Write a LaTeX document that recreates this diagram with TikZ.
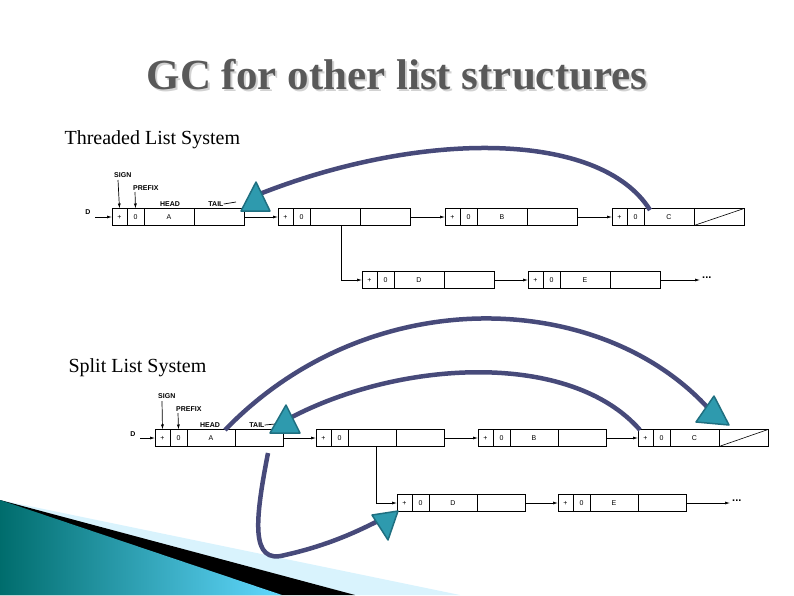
\documentclass[tikz,border=0pt]{standalone}
\usepackage{fontspec}
\setmainfont{Liberation Serif}
\newfontfamily\cellfont{Liberation Sans}
\usetikzlibrary{arrows.meta}
\definecolor{curve}{HTML}{474A7A}
\definecolor{tealf}{HTML}{2E9AAE}
\definecolor{teald}{HTML}{1F6F80}
\tikzset{
 cell/.style={draw,line width=0.7pt,inner sep=0,outer sep=0,minimum height=17,anchor=west,font=\cellfont\fontsize{7}{8}\selectfont},
 lbl/.style={font=\cellfont\bfseries\fontsize{7}{8}\selectfont,inner sep=0},
 dots/.style={font=\cellfont\bfseries\fontsize{11}{12}\selectfont,inner sep=0},
 link/.style={line width=0.7pt,-{Latex[length=5pt,width=3pt]}},
 gcn/.style={draw=curve,line width=4.5pt},
 tri/.style={fill=tealf,draw=teald,line width=1.5pt,line join=round}
}
\newcommand{\rec}[5]{%
 \node[cell,minimum width=15] (#1s) at (#2,#3) {+};
 \node[cell,minimum width=17] (#1p) at (#1s.east) {0};
 \node[cell,minimum width=#5] (#1h) at (#1p.east) {#4};
 \node[cell,minimum width=#5] (#1t) at (#1h.east) {};
}
\begin{document}
\begin{tikzpicture}[x=1pt,y=-1pt]
\useasboundingbox (0,0) rectangle (794,595);
% decoration
\fill[cyan!15!white] (0,500) -- (460,595) -- (0,595) -- cycle;
\fill[black] (0,500) -- (355,595) -- (0,595) -- cycle;
\shade[left color=teal!85!black,right color=cyan!55!white!85!blue] (0,500) -- (282,595) -- (0,595) -- cycle;
% title (with shadow)
\node[text=gray!35] (titles) at (399,77) {\fontsize{43}{46}\selectfont\bfseries GC for other list structures};
\node[text=black!65] (title) at (397,75) {\fontsize{43}{46}\selectfont\bfseries GC for other list structures};
\node[anchor=west,font=\fontsize{20}{22}\selectfont] (t1) at (61,140) {Threaded List System};
\node[anchor=west,font=\fontsize{20}{22}\selectfont] (t2) at (65,368) {Split List System};
% ---------- top diagram
\rec{a}{112}{217}{A}{50}
\rec{b}{278}{217}{}{50}
\rec{c}{445}{217}{B}{50}
\rec{d}{612}{217}{C}{50}
\draw[line width=0.6pt] (dt.south west) -- (dt.north east);
\rec{e}{362}{280}{D}{50}
\rec{f}{528}{280}{E}{50}
\node[lbl] (D1) at (88,212) {D};
\coordinate (D1s) at (95,217);
\draw[link] (D1s) -- (as.west);
\draw[link] (at.east) -- (bs.west);
\draw[link] (bt.east) -- (cs.west);
\draw[link] (ct.east) -- (ds.west);
\draw[link] (et.east) -- (fs.west);
\coordinate (f1) at (700,280);
\draw[link] (ft.east) -- (f1);
\node[dots,anchor=west] (dots1) at (702,278) {...};
\coordinate (v1) at (341,226);
\draw[link] (v1) |- (es.west);
\node[lbl,anchor=west] (sg1) at (114,175) {SIGN};
\draw[link] (118,180) -- (as.north);
\node[lbl,anchor=west] (pf1) at (133,188) {PREFIX};
\draw[link] (135,192) -- (ap.north);
\node[lbl] (hd1) at (170,204) {HEAD};
\node[lbl] (tl1) at (216,204) {TAIL};
\draw[line width=0.7pt] (tl1.east) -- (236,202);
\coordinate (g1a) at (650,210);
\coordinate (g1b) at (257,195);
\draw[gcn] (g1a) .. controls (600,130) and (420,130) .. (g1b);
\draw[tri] (256,182) -- (270,211) -- (241,211) -- cycle;
% ---------- bottom diagram
\rec{A}{155}{438}{A}{48}
\rec{B}{316}{438}{}{48}
\rec{C}{478}{438}{B}{48}
\rec{E}{638}{438}{C}{49}
\draw[line width=0.6pt] (Et.south west) -- (Et.north east);
\rec{F}{397}{503}{D}{48}
\rec{G}{558}{503}{E}{48}
\node[lbl] (D2) at (133,434) {D};
\coordinate (D2s) at (140,438);
\draw[link] (D2s) -- (As.west);
\draw[link] (At.east) -- (Bs.west);
\draw[link] (Bt.east) -- (Cs.west);
\draw[link] (Ct.east) -- (Es.west);
\draw[link] (Ft.east) -- (Gs.west);
\coordinate (f2) at (730,503);
\draw[link] (Gt.east) -- (f2);
\node[dots,anchor=west] (dots2) at (732,501) {...};
\coordinate (v2) at (376,447);
\draw[link] (v2) |- (Fs.west);
\node[lbl,anchor=west] (sg2) at (158,396) {SIGN};
\draw[link] (162,401) -- (As.north);
\node[lbl,anchor=west] (pf2) at (176,409) {PREFIX};
\draw[link] (178,413) -- (Ap.north);
\node[lbl] (hd2) at (210,425) {HEAD};
\node[lbl] (tl2) at (257,425) {TAIL};
\draw[line width=0.7pt] (tl2.east) -- (275,424);
% curves
\coordinate (g2a) at (225,430);
\coordinate (g2b) at (708,408);
\draw[gcn] (g2a) .. controls (370,280) and (600,290) .. (g2b);
\draw[tri] (729,425) -- (696,422) -- (714,396) -- cycle;
\coordinate (g3a) at (640,430);
\coordinate (g3b) at (290,418);
\draw[gcn] (g3a) .. controls (570,350) and (400,360) .. (g3b);
\draw[tri] (286,405) -- (300,433) -- (270,433) -- cycle;
\coordinate (g4a) at (268,453);
\coordinate (g4b) at (380,520);
\draw[gcn] (g4a) .. controls (255,520) and (250,565) .. (285,555) .. controls (330,545) and (360,530) .. (g4b);
\draw[tri] (398,511) -- (372,515) -- (388,540) -- cycle;
\end{tikzpicture}
\end{document}
